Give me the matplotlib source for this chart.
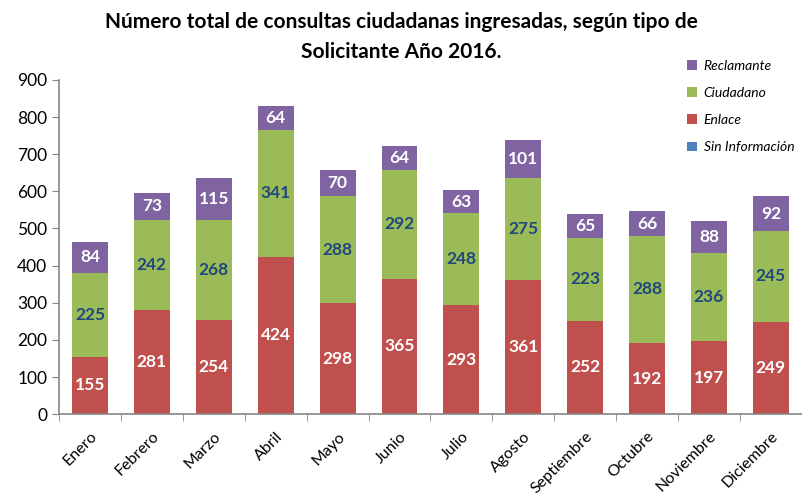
import numpy as np
import matplotlib.pyplot as plt

plt.rcParams['font.family'] = ['Lato', 'DejaVu Sans']

meses = ['Enero', 'Febrero', 'Marzo', 'Abril', 'Mayo', 'Junio', 'Julio',
         'Agosto', 'Septiembre', 'Octubre', 'Noviembre', 'Diciembre']
sin_info = [0, 0, 0, 0, 0, 0, 0, 0, 0, 0, 0, 0]
enlace = [155, 281, 254, 424, 298, 365, 293, 361, 252, 192, 197, 249]
ciudadano = [225, 242, 268, 341, 288, 292, 248, 275, 223, 288, 236, 245]
reclamante = [84, 73, 115, 64, 70, 64, 63, 101, 65, 66, 88, 92]

c_sin = '#4F81BD'
c_enl = '#C0504D'
c_ciu = '#9BBB59'
c_rec = '#8064A2'
gris = '#868686'

fig = plt.figure(figsize=(8.03, 4.96), dpi=100)
ax = fig.add_axes([0.0735, 0.165, 0.925, 0.674])

x = np.arange(len(meses))
w = 0.58
b0 = np.array(sin_info)
b1 = b0 + np.array(enlace)
b2 = b1 + np.array(ciudadano)

h_sin = ax.bar(x, sin_info, w, color=c_sin, label='Sin Información')
h_enl = ax.bar(x, enlace, w, bottom=b0, color=c_enl, label='Enlace')
h_ciu = ax.bar(x, ciudadano, w, bottom=b1, color=c_ciu, label='Ciudadano')
h_rec = ax.bar(x, reclamante, w, bottom=b2, color=c_rec, label='Reclamante')

# etiquetas de valor dentro de cada segmento
for i in x:
    ax.text(i, b0[i] + enlace[i] / 2, str(enlace[i]), ha='center', va='center',
            color='white', fontsize=12.5, fontweight='bold')
    ax.text(i, b1[i] + ciudadano[i] / 2, str(ciudadano[i]), ha='center', va='center',
            color='#1F497D', fontsize=12.5, fontweight='bold')
    ax.text(i, b2[i] + reclamante[i] / 2, str(reclamante[i]), ha='center', va='center',
            color='white', fontsize=12.5, fontweight='bold')

ax.set_xlim(-0.5, len(meses) - 0.5)
ax.set_ylim(0, 900)
ax.set_yticks(range(0, 901, 100))
ax.tick_params(axis='y', labelsize=12.5, color=gris, length=5)
ax.set_xticks(x)
ax.set_xticklabels(meses, rotation=45, ha='right', rotation_mode='anchor', fontsize=11.5)
ax.tick_params(axis='x', length=0, pad=11)
ax.set_xticks(np.arange(-0.5, len(meses)), minor=True)
ax.tick_params(axis='x', which='minor', length=5, color=gris)

for s in ['top', 'right']:
    ax.spines[s].set_visible(False)
for s in ['left', 'bottom']:
    ax.spines[s].set_color(gris)
    ax.spines[s].set_linewidth(1.2)

fig.text(0.5, 0.955, 'Número total de consultas ciudadanas ingresadas, según tipo de',
         ha='center', va='center', fontsize=15, fontweight='bold')
fig.text(0.5, 0.895, 'Solicitante Año 2016.',
         ha='center', va='center', fontsize=15, fontweight='bold')

leg = fig.legend(handles=[h_rec, h_ciu, h_enl, h_sin],
                 loc='upper left', bbox_to_anchor=(0.84, 0.905),
                 frameon=False, prop={'style': 'italic', 'size': 10},
                 handlelength=0.7, handleheight=0.7, handletextpad=0.5,
                 labelspacing=1.1)

fig.savefig('out.png', dpi=100)
